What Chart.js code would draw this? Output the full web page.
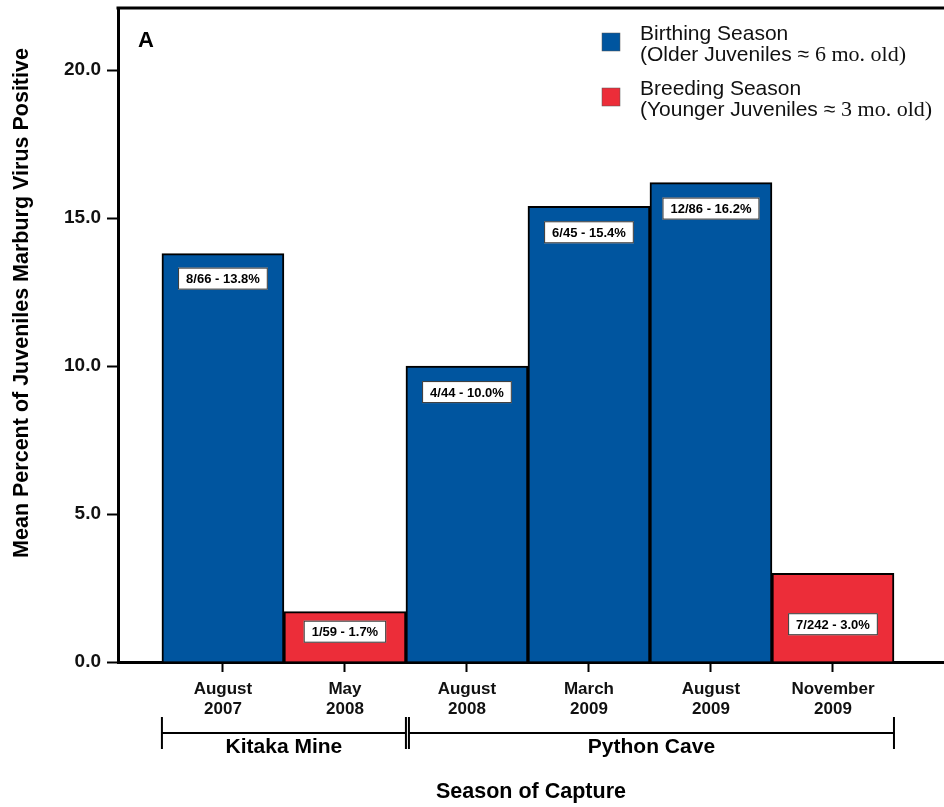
<!DOCTYPE html>
<html>
<head>
<meta charset="utf-8">
<script src="https://cdn.jsdelivr.net/npm/chart.js@4.4.1/dist/chart.umd.min.js"></script>
<style>
  html, body { margin: 0; padding: 0; background: #fff; }
</style>
</head>
<body>
<canvas id="chart" width="944" height="807"></canvas>
<script>
// data
const seasons = [['August', '2007'], ['May', '2008'], ['August', '2008'], ['March', '2009'], ['August', '2009'], ['November', '2009']];
const birthing = [13.8, null, 10.0, 15.4, 16.2, null];
const breeding = [null, 1.7, null, null, null, 3.0];
const counts = ['8/66', '1/59', '4/44', '6/45', '12/86', '7/242'];
const yTicks = [0, 5, 10, 15, 20];
const sites = [
  { name: 'Kitaka Mine', from: 0, to: 1 },
  { name: 'Python Cave', from: 2, to: 5 }
];

const BLUE = '#00559f';
const RED = '#ec2d39';
const SANS = "'Liberation Sans', Arial, sans-serif";
const SERIF = "'Liberation Serif', 'Times New Roman', serif";
// how far below the bar top each count box sits (px)
const labelDrop = [14, 9, 15, 15, 15, 40];

const toPoints = arr => arr.map((v, i) => ({ x: i, y: v }));

const decorPlugin = {
  id: 'decor',
  afterDatasetsDraw(chart) {
    const { ctx, chartArea, scales } = chart;
    const x = scales.x;
    ctx.save();

    // count boxes inside the bars
    ctx.font = 'bold 13px ' + SANS;
    ctx.textAlign = 'center';
    ctx.textBaseline = 'middle';
    chart.data.datasets.forEach((ds, di) => {
      chart.getDatasetMeta(di).data.forEach((bar, i) => {
        const v = ds.data[i].y;
        if (v === null) return;
        const txt = counts[i] + ' - ' + v.toFixed(1) + '%';
        const w = ctx.measureText(txt).width + 16;
        const h = 22;
        const top = bar.y + labelDrop[i];
        ctx.fillStyle = '#fff';
        ctx.fillRect(bar.x - w / 2, top, w, h);
        ctx.strokeStyle = '#333';
        ctx.lineWidth = 1;
        ctx.strokeRect(bar.x - w / 2 + 0.5, top + 0.5, w - 1, h - 1);
        ctx.fillStyle = '#000';
        ctx.fillText(txt, bar.x, top + h / 2 + 1);
      });
    });

    // frame top
    ctx.strokeStyle = '#000';
    ctx.lineWidth = 3;
    ctx.beginPath();
    ctx.moveTo(chartArea.left - 1.5, chartArea.top);
    ctx.lineTo(chartArea.right, chartArea.top);
    ctx.stroke();

    // panel letter
    ctx.fillStyle = '#000';
    ctx.font = 'bold 22px ' + SANS;
    ctx.textAlign = 'left';
    ctx.textBaseline = 'alphabetic';
    ctx.fillText('A', chartArea.left + 20, chartArea.top + 39);

    // legend
    const legend = [
      { color: BLUE, title: 'Birthing Season', sub: '(Older Juveniles \u2248 ', age: '6 mo. old)', y: 33 },
      { color: RED, title: 'Breeding Season', sub: '(Younger Juveniles \u2248 ', age: '3 mo. old)', y: 88 }
    ];
    legend.forEach(item => {
      ctx.fillStyle = item.color;
      ctx.fillRect(602, item.y, 18, 18);
      ctx.strokeStyle = '#555';
      ctx.lineWidth = 0.5;
      ctx.strokeRect(602, item.y, 18, 18);
      ctx.fillStyle = '#111';
      ctx.font = '21px ' + SANS;
      ctx.fillText(item.title, 640, item.y + 7);
      ctx.fillText(item.sub, 640, item.y + 28);
      const sw = ctx.measureText(item.sub).width;
      ctx.font = '22px ' + SERIF;
      ctx.fillText(item.age, 640 + sw, item.y + 28);
    });

    // site brackets under the x axis
    const lineY = 733;
    ctx.strokeStyle = '#000';
    ctx.lineWidth = 2;
    ctx.font = 'bold 21px ' + SANS;
    ctx.textAlign = 'center';
    ctx.textBaseline = 'middle';
    sites.forEach((s, si) => {
      const x0 = x.getPixelForValue(s.from - 0.5) + (si > 0 ? 3 : 0);
      const x1 = x.getPixelForValue(s.to + 0.5);
      ctx.beginPath();
      ctx.moveTo(x0, lineY);
      ctx.lineTo(x1, lineY);
      ctx.moveTo(x0, lineY - 16);
      ctx.lineTo(x0, lineY + 16);
      ctx.moveTo(x1, lineY - 16);
      ctx.lineTo(x1, lineY + 16);
      ctx.stroke();
      ctx.fillStyle = '#000';
      ctx.fillText(s.name, (x0 + x1) / 2, lineY + 14);
    });

    // axis titles
    ctx.font = 'bold 21.5px ' + SANS;
    ctx.fillText('Season of Capture', (chartArea.left + chartArea.right) / 2, 792);
    ctx.translate(22, 303);
    ctx.rotate(-Math.PI / 2);
    ctx.fillText('Mean Percent of Juveniles Marburg Virus Positive', 0, 0);

    ctx.restore();
  }
};

new Chart(document.getElementById('chart'), {
  type: 'bar',
  data: {
    datasets: [
      {
        label: 'Birthing Season',
        data: toPoints(birthing),
        backgroundColor: BLUE,
        borderColor: '#000',
        borderWidth: 2
      },
      {
        label: 'Breeding Season',
        data: toPoints(breeding),
        backgroundColor: RED,
        borderColor: '#000',
        borderWidth: 2
      }
    ]
  },
  options: {
    responsive: false,
    animation: false,
    layout: { padding: { top: 8, right: 0, left: 0, bottom: 0 } },
    datasets: {
      bar: { grouped: false, barPercentage: 1, categoryPercentage: 1 }
    },
    plugins: {
      legend: { display: false },
      tooltip: { enabled: false }
    },
    scales: {
      x: {
        type: 'linear',
        offset: false,
        min: -0.86,
        max: 5.91,
        afterBuildTicks: scale => {
          scale.ticks = seasons.map((_, i) => ({ value: i }));
        },
        afterFit: scale => {
          scale.height = 145;
          scale.paddingLeft = 0;
          scale.paddingRight = 0;
        },
        ticks: {
          autoSkip: false,
          maxRotation: 0,
          padding: 8,
          color: '#111',
          font: { family: SANS, size: 17, weight: 'bold', lineHeight: 1.15 },
          callback: v => seasons[v]
        },
        grid: {
          offset: false,
          drawOnChartArea: false,
          tickLength: 10,
          tickWidth: 2,
          color: '#000'
        },
        border: { display: true, width: 3, color: '#000' }
      },
      y: {
        min: 0,
        max: 22.1,
        afterBuildTicks: scale => {
          scale.ticks = yTicks.map(v => ({ value: v }));
        },
        afterFit: scale => {
          scale.width = 118;
          scale.paddingTop = 0;
          scale.paddingBottom = 0;
        },
        ticks: {
          padding: 6,
          color: '#111',
          font: { family: SANS, size: 19, weight: 'bold' },
          callback: v => v.toFixed(1)
        },
        grid: {
          drawOnChartArea: false,
          tickLength: 11,
          tickWidth: 2,
          color: '#000'
        },
        border: { display: true, width: 3, color: '#000' }
      }
    }
  },
  plugins: [decorPlugin]
});
</script>
</body>
</html>
